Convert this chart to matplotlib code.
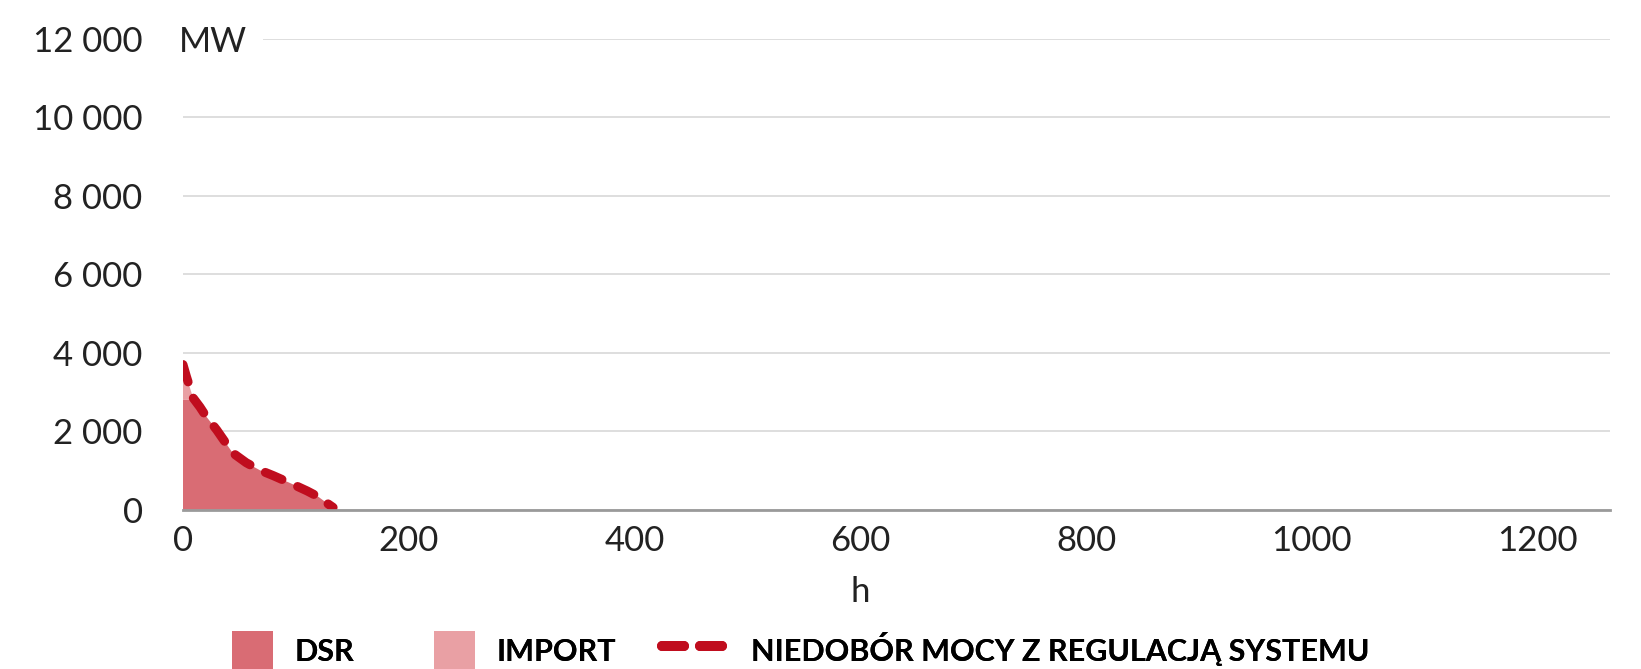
import matplotlib.pyplot as plt
from matplotlib.patches import Patch
from matplotlib.lines import Line2D
from matplotlib.ticker import FuncFormatter

# hours of the year sorted by shortfall size (duration curve)
hours = [0, 3, 9, 15, 20, 30, 44, 56, 68, 80, 95, 110, 120, 128, 133]
shortfall = [3700, 3400, 2850, 2620, 2400, 2030, 1450, 1200, 1010, 870, 680, 480, 330, 160, 60]
dsr = [2800, 2800, 2800, 2620, 2400, 2030, 1450, 1200, 1010, 870, 680, 480, 330, 160, 60]
imp = [s - d for s, d in zip(shortfall, dsr)]

y_ticks = [0, 2000, 4000, 6000, 8000, 10000, 12000]
x_ticks = [0, 200, 400, 600, 800, 1000, 1200]

c_dsr = "#d96c74"
c_imp = "#e9a0a4"
c_line = "#c00d1e"

plt.rcParams["font.family"] = ["Lato", "DejaVu Sans"]

fig = plt.figure(figsize=(16.41, 6.69), dpi=100)
ax = fig.add_axes([0.1115, 0.238, 0.8695, 0.704])

ax.stackplot(hours, dsr, imp, colors=[c_dsr, c_imp], linewidth=0)
ln, = ax.plot(hours, shortfall, color=c_line, lw=6.5, ls=(0, (2.0, 1.9)))
ln.set_dash_capstyle("round")

ax.set_xlim(0, 1264)
ax.set_ylim(0, 12000)
ax.set_yticks(y_ticks)
ax.set_xticks(x_ticks)
ax.yaxis.set_major_formatter(FuncFormatter(lambda v, p: f"{int(v):,}".replace(",", " ")))
ax.tick_params(axis="both", length=0, labelsize=25, colors="#222222")
ax.tick_params(axis="y", pad=29)
ax.tick_params(axis="x", pad=11)
for t in ax.get_yticklabels():
    t.set_va("center_baseline")
ax.grid(axis="y", color="#d4d4d4", lw=1.1)
ax.set_axisbelow(True)
for s in ["top", "right", "left"]:
    ax.spines[s].set_visible(False)
ax.spines["bottom"].set_color("#9a9a9a")
ax.spines["bottom"].set_linewidth(2)
ax.spines["bottom"].set_zorder(5)

ax.set_xlabel("h", fontsize=25, color="#222222")
ax.xaxis.set_label_coords(600 / 1264, -0.14)

ax.text(-4, 12000, "MW", fontsize=25, color="#222222", va="center_baseline", ha="left",
        bbox=dict(facecolor="white", edgecolor="none", pad=12))

# legend entries laid out one by one along the bottom
items = [
    (Patch(facecolor=c_dsr, edgecolor="none"), "DSR", 0.1414, 1.35),
    (Patch(facecolor=c_imp, edgecolor="none"), "IMPORT", 0.2645, 1.35),
    (Line2D([0], [0], color=c_line, lw=7.2, ls=(0, (2.2, 1.6)), dash_capstyle="round"),
     "NIEDOBÓR MOCY Z REGULACJĄ SYSTEMU", 0.4035, 2.2),
]
for h, lab, x0, hl in items:
    leg = fig.legend([h], [lab], loc="center left", bbox_to_anchor=(x0, 0.027),
                     frameon=False, handlelength=hl, handleheight=1.6,
                     handletextpad=0.7, borderpad=0, borderaxespad=0,
                     prop=dict(weight="bold", size=22))
    fig.add_artist(leg)

fig.savefig("out.png", dpi=100)
